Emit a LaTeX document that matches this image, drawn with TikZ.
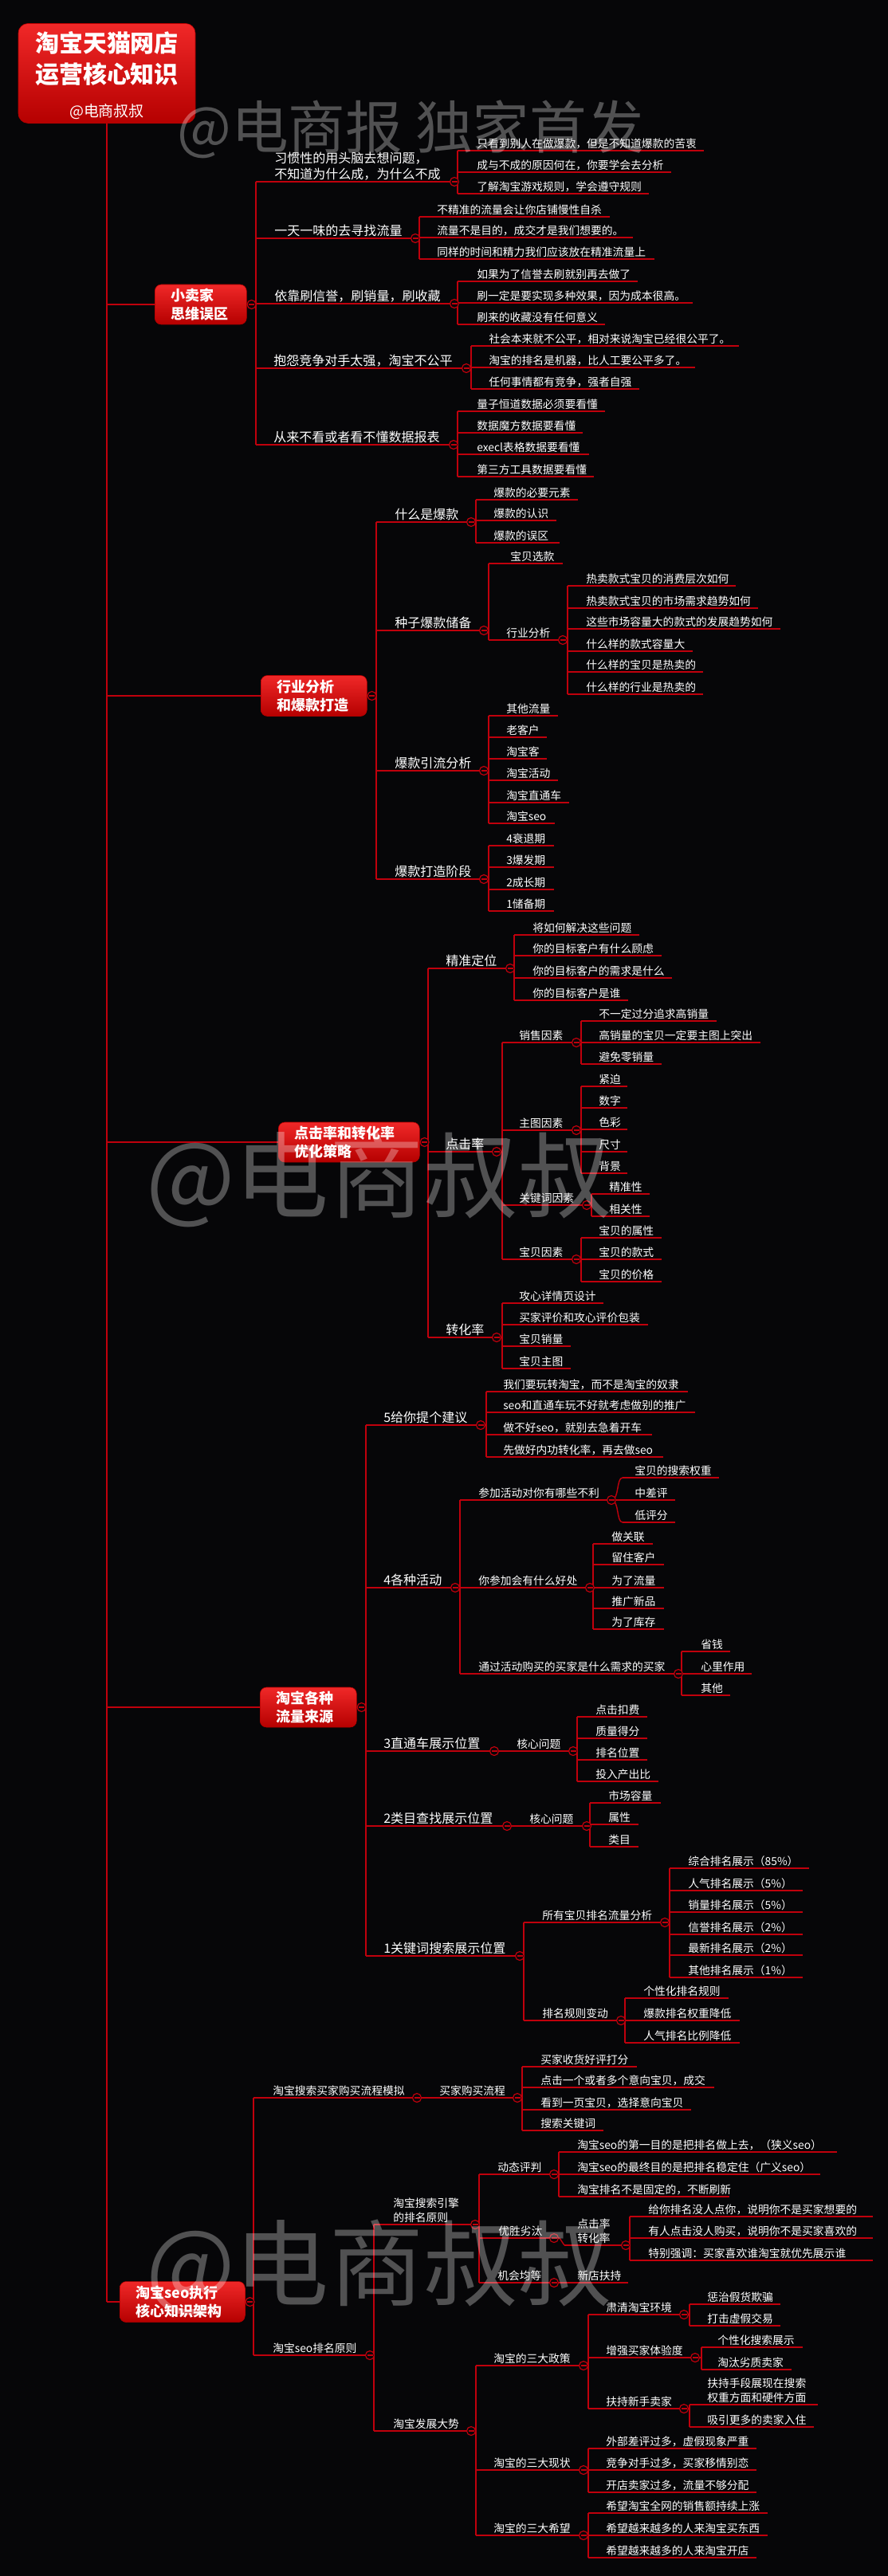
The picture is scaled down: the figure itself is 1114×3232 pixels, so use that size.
\documentclass[tikz,border=0pt]{standalone}
\usepackage{fontspec}
\setmainfont{Noto Sans CJK SC}
\usepackage{tikz}
\usetikzlibrary{positioning}
\definecolor{bgc}{HTML}{060608}
\definecolor{linec}{HTML}{C0000C}
\definecolor{boxtop}{HTML}{F02828}
\definecolor{boxbot}{HTML}{B50000}
\newlength{\pxu}\setlength{\pxu}{0.25mm}
\tikzset{
  ln/.style={linec,line width=0.35mm},
  foldc/.style={draw=linec,fill=bgc,line width=0.3mm},
  txt/.style={text=white,inner sep=0pt,align=left,anchor=south west},
  leaf/.style={txt,font=\fontsize{9.8}{12.8}\selectfont},
  lvtwo/.style={txt,font=\fontsize{11.4}{13.7}\selectfont},
  mainbox/.style={rounded corners=2mm,top color=boxtop,bottom color=boxbot,draw=boxbot,text=white,align=left,inner xsep=20\pxu,inner ysep=0pt,anchor=west,font=\bfseries\fontsize{12.8}{16.2}\selectfont},
  titlebox/.style={rounded corners=3mm,top color=boxtop,bottom color=boxbot,draw=boxbot,inner sep=0pt},
  wmark/.style={text=white,text opacity=0.3,inner sep=0pt,anchor=west}
}
% one branch: name, line start, text x, line y, line end, style, text
\newcommand{\mmnode}[7]{%
  \coordinate (#1-l) at (#2,#4);
  \coordinate (#1-r) at (#5,#4);
  \draw[ln] (#1-l) -- (#1-r);
  \node[#6] (#1) at (#3,#4-2) {#7};}
% fold mark only
\newcommand{\mmmark}[1]{%
  \draw[foldc] (#1-r) circle[radius=5.5\pxu];
  \draw[ln] (#1-r) ++(-3.5,0) -- ++(7,0);}
% parent -> bar over children, with fold mark
\newcommand{\mmfold}[3]{%
  \draw[ln] (#1-r) -- (#1-r -| #2-l);
  \draw[ln] (#2-l) -- (#3-l);
  \mmmark{#1}}

\begin{document}
\begin{tikzpicture}[x=0.25mm,y=-0.25mm]
\useasboundingbox (0,0) rectangle (1114,3232);
\fill[bgc] (0,0) rectangle (1114,3232);

% title
\node[titlebox,minimum width=222\pxu,minimum height=125\pxu] (title) at (134,92) {};
\node[align=center,text=white,font=\bfseries\fontsize{21.3}{27.7}\selectfont] (tl1) at (134,74) {淘宝天猫网店\\运营核心知识};
\node[text=white,font=\fontsize{13.5}{16}\selectfont] (tl2) at (134,140) {@电商叔叔};

% main boxes
\node[mainbox,minimum width=115\pxu,minimum height=50\pxu,text width=75\pxu] (m1) at (194,382) {小卖家\\思维误区};
\node[mainbox,minimum width=133\pxu,minimum height=51\pxu,text width=93\pxu] (m2) at (327,873) {行业分析\\和爆款打造};
\node[mainbox,minimum width=177\pxu,minimum height=50\pxu,text width=137\pxu] (m3) at (349,1433) {点击率和转化率\\优化策略};
\node[mainbox,minimum width=121\pxu,minimum height=50\pxu,text width=81\pxu] (m4) at (326,2142) {淘宝各种\\流量来源};
\node[mainbox,minimum width=157\pxu,minimum height=51\pxu,text width=117\pxu] (m5) at (150,2888) {淘宝seo执行\\核心知识架构};

\draw[ln] (title.south) -- (title.south |- m5.west);
\foreach \m in {m1,m2,m3,m4,m5}{
  \draw[ln] (title.south |- \m.west) -- (\m.west);
  \coordinate (\m-r) at ([xshift=6\pxu]\m.east);
}

% 小卖家思维误区
\mmnode{a1}{321}{344}{228}{570}{lvtwo}{习惯性的用头脑去想问题，\\不知道为什么成，为什么不成}
\mmnode{a1a}{574}{598}{189}{883}{leaf}{只看到别人在做爆款，但是不知道爆款的苦衷}
\mmnode{a1b}{574}{598}{216}{842}{leaf}{成与不成的原因何在，你要学会去分析}
\mmnode{a1c}{574}{598}{243}{814}{leaf}{了解淘宝游戏规则，学会遵守规则}
\mmfold{a1}{a1a}{a1c}
\mmnode{a2}{321}{344}{299}{521}{lvtwo}{一天一味的去寻找流量}
\mmnode{a2a}{526}{548}{272}{765}{leaf}{不精准的流量会让你店铺慢性自杀}
\mmnode{a2b}{526}{548}{298}{794}{leaf}{流量不是目的，成交才是我们想要的。}
\mmnode{a2c}{526}{548}{325}{821}{leaf}{同样的时间和精力我们应该放在精准流量上}
\mmfold{a2}{a2a}{a2c}
\mmnode{a3}{321}{344}{381}{570}{lvtwo}{依靠刷信誉，刷销量，刷收藏}
\mmnode{a3a}{574}{598}{353}{800}{leaf}{如果为了信誉去刷就别再去做了}
\mmnode{a3b}{574}{598}{380}{869}{leaf}{刷一定是要实现多种效果，因为成本很高。}
\mmnode{a3c}{574}{598}{407}{759}{leaf}{刷来的收藏没有任何意义}
\mmfold{a3}{a3a}{a3c}
\mmnode{a4}{321}{343}{462}{585}{lvtwo}{抱怨竞争对手太强，淘宝不公平}
\mmnode{a4a}{591}{613}{434}{927}{leaf}{社会本来就不公平，相对来说淘宝已经很公平了。}
\mmnode{a4b}{591}{613}{461}{872}{leaf}{淘宝的排名是机器，比人工要公平多了。}
\mmnode{a4c}{591}{613}{488}{802}{leaf}{任何事情都有竞争，强者自强}
\mmfold{a4}{a4a}{a4c}
\mmnode{a5}{321}{343}{558}{569}{lvtwo}{从来不看或者看不懂数据报表}
\mmnode{a5a}{574}{598}{516}{759}{leaf}{量子恒道数据必须要看懂}
\mmnode{a5b}{574}{598}{543}{731}{leaf}{数据魔方数据要看懂}
\mmnode{a5c}{574}{598}{570}{739}{leaf}{execl表格数据要看懂}
\mmnode{a5d}{574}{598}{598}{745}{leaf}{第三方工具数据要看懂}
\mmfold{a5}{a5a}{a5d}
\mmfold{m1}{a1}{a5}

% 行业分析和爆款打造
\mmnode{b1}{472}{495}{655}{591}{lvtwo}{什么是爆款}
\mmnode{b1a}{597}{619}{627}{725}{leaf}{爆款的必要元素}
\mmnode{b1b}{597}{619}{653}{698}{leaf}{爆款的认识}
\mmnode{b1c}{597}{619}{681}{702}{leaf}{爆款的误区}
\mmfold{b1}{b1a}{b1c}
\mmnode{b2}{472}{495}{791}{607}{lvtwo}{种子爆款储备}
\mmnode{b2a}{613}{640}{707}{706}{leaf}{宝贝选款}
\mmnode{b2b}{613}{635}{803}{706}{leaf}{行业分析}
\mmnode{b2b1}{712}{735}{735}{923}{leaf}{热卖款式宝贝的消费层次如何}
\mmnode{b2b2}{712}{735}{763}{951}{leaf}{热卖款式宝贝的市场需求趋势如何}
\mmnode{b2b3}{712}{735}{789}{979}{leaf}{这些市场容量大的款式的发展趋势如何}
\mmnode{b2b4}{712}{735}{817}{869}{leaf}{什么样的款式容量大}
\mmnode{b2b5}{712}{735}{843}{882}{leaf}{什么样的宝贝是热卖的}
\mmnode{b2b6}{712}{735}{871}{882}{leaf}{什么样的行业是热卖的}
\mmfold{b2b}{b2b1}{b2b6}
\mmfold{b2}{b2a}{b2b}
\mmnode{b3}{472}{495}{967}{607}{lvtwo}{爆款引流分析}
\mmnode{b3a}{613}{635}{898}{700}{leaf}{其他流量}
\mmnode{b3b}{613}{635}{925}{686}{leaf}{老客户}
\mmnode{b3c}{613}{635}{952}{686}{leaf}{淘宝客}
\mmnode{b3d}{613}{635}{979}{700}{leaf}{淘宝活动}
\mmnode{b3e}{613}{635}{1007}{714}{leaf}{淘宝直通车}
\mmnode{b3f}{613}{635}{1033}{696}{leaf}{淘宝seo}
\mmfold{b3}{b3a}{b3f}
\mmnode{b4}{472}{495}{1103}{607}{lvtwo}{爆款打造阶段}
\mmnode{b4a}{613}{635}{1061}{695}{leaf}{4衰退期}
\mmnode{b4b}{613}{635}{1088}{695}{leaf}{3爆发期}
\mmnode{b4c}{613}{635}{1116}{695}{leaf}{2成长期}
\mmnode{b4d}{613}{635}{1143}{695}{leaf}{1储备期}
\mmfold{b4}{b4a}{b4d}
\mmfold{m2}{b1}{b4}

% 点击率和转化率优化策略
\mmnode{c1}{537}{559}{1215}{640}{lvtwo}{精准定位}
\mmnode{c1a}{645}{668}{1173}{802}{leaf}{将如何解决这些问题}
\mmnode{c1b}{645}{668}{1199}{830}{leaf}{你的目标客户有什么顾虑}
\mmnode{c1c}{645}{668}{1227}{843}{leaf}{你的目标客户的需求是什么}
\mmnode{c1d}{645}{668}{1255}{788}{leaf}{你的目标客户是谁}
\mmfold{c1}{c1a}{c1d}
\mmnode{c2}{537}{559}{1445}{623}{lvtwo}{点击率}
\mmnode{c2a}{630}{651}{1308}{723}{leaf}{销售因素}
\mmnode{c2a1}{729}{751}{1281}{899}{leaf}{不一定过分追求高销量}
\mmnode{c2a2}{729}{751}{1308}{954}{leaf}{高销量的宝贝一定要主图上突出}
\mmnode{c2a3}{729}{751}{1335}{830}{leaf}{避免零销量}
\mmfold{c2a}{c2a1}{c2a3}
\mmnode{c2b}{630}{651}{1418}{723}{leaf}{主图因素}
\mmnode{c2b1}{729}{751}{1363}{787}{leaf}{紧迫}
\mmnode{c2b2}{729}{751}{1390}{787}{leaf}{数字}
\mmnode{c2b3}{729}{751}{1417}{787}{leaf}{色彩}
\mmnode{c2b4}{729}{751}{1445}{787}{leaf}{尺寸}
\mmnode{c2b5}{729}{751}{1472}{787}{leaf}{背景}
\mmfold{c2b}{c2b1}{c2b5}
\mmnode{c2c}{630}{651}{1512}{736}{leaf}{关键词因素}
\mmnode{c2c1}{742}{764}{1498}{815}{leaf}{精准性}
\mmnode{c2c2}{742}{764}{1526}{815}{leaf}{相关性}
\mmfold{c2c}{c2c1}{c2c2}
\mmnode{c2d}{630}{651}{1580}{723}{leaf}{宝贝因素}
\mmnode{c2d1}{729}{751}{1553}{830}{leaf}{宝贝的属性}
\mmnode{c2d2}{729}{751}{1580}{830}{leaf}{宝贝的款式}
\mmnode{c2d3}{729}{751}{1608}{830}{leaf}{宝贝的价格}
\mmfold{c2d}{c2d1}{c2d3}
\mmfold{c2}{c2a}{c2d}
\mmnode{c3}{537}{559}{1678}{623}{lvtwo}{转化率}
\mmnode{c3a}{630}{651}{1635}{757}{leaf}{攻心详情页设计}
\mmnode{c3b}{630}{651}{1662}{813}{leaf}{买家评价和攻心评价包装}
\mmnode{c3c}{630}{651}{1689}{716}{leaf}{宝贝销量}
\mmnode{c3d}{630}{651}{1717}{716}{leaf}{宝贝主图}
\mmfold{c3}{c3a}{c3d}
\mmfold{m3}{c1}{c3}

% 淘宝各种流量来源
\mmnode{d1}{459}{481}{1788}{603}{lvtwo}{5给你提个建议}
\mmnode{d1a}{610}{631}{1746}{863}{leaf}{我们要玩转淘宝，而不是淘宝的奴隶}
\mmnode{d1b}{610}{631}{1772}{872}{leaf}{seo和直通车玩不好就考虑做别的推广}
\mmnode{d1c}{610}{631}{1800}{818}{leaf}{做不好seo，就别去急着开车}
\mmnode{d1d}{610}{631}{1828}{832}{leaf}{先做好内功转化率，再去做seo}
\mmfold{d1}{d1a}{d1d}
\mmnode{d2}{459}{481}{1992}{571}{lvtwo}{4各种活动}
\mmnode{d2a}{577}{600}{1882}{767}{leaf}{参加活动对你有哪些不利}
\mmnode{d2a1}{781}{796}{1854}{902}{leaf}{宝贝的搜索权重}
\mmnode{d2a2}{781}{796}{1882}{847}{leaf}{中差评}
\mmnode{d2a3}{781}{796}{1910}{847}{leaf}{低评分}
\draw[ln] (d2a-r) -- (d2a2-l);
\draw[ln] (d2a-r) .. controls (777,1882) and (773,1854) .. (d2a1-l);
\draw[ln] (d2a-r) .. controls (777,1882) and (773,1910) .. (d2a3-l);
\mmmark{d2a}
\mmnode{d2b}{577}{600}{1992}{740}{leaf}{你参加会有什么好处}
\mmnode{d2b1}{744}{767}{1937}{819}{leaf}{做关联}
\mmnode{d2b2}{744}{767}{1963}{833}{leaf}{留住客户}
\mmnode{d2b3}{744}{767}{1992}{833}{leaf}{为了流量}
\mmnode{d2b4}{744}{767}{2018}{833}{leaf}{推广新品}
\mmnode{d2b5}{744}{767}{2044}{833}{leaf}{为了库存}
\mmfold{d2b}{d2b1}{d2b5}
\mmnode{d2c}{577}{600}{2100}{851}{leaf}{通过活动购买的买家是什么需求的买家}
\mmnode{d2c1}{855}{879}{2072}{916}{leaf}{省钱}
\mmnode{d2c2}{855}{879}{2100}{943}{leaf}{心里作用}
\mmnode{d2c3}{855}{879}{2127}{916}{leaf}{其他}
\mmfold{d2c}{d2c1}{d2c3}
\mmfold{d2}{d2a}{d2c}
\mmnode{d3}{459}{481}{2197}{620}{lvtwo}{3直通车展示位置}
\mmnode{d3a}{626}{648}{2197}{719}{leaf}{核心问题}
\mmnode{d3a1}{724}{747}{2154}{812}{leaf}{点击扣费}
\mmnode{d3a2}{724}{747}{2181}{812}{leaf}{质量得分}
\mmnode{d3a3}{724}{747}{2208}{812}{leaf}{排名位置}
\mmnode{d3a4}{724}{747}{2235}{826}{leaf}{投入产出比}
\mmfold{d3a}{d3a1}{d3a4}
\mmfold{d3}{d3a}{d3a}
\mmnode{d4}{459}{481}{2291}{636}{lvtwo}{2类目查找展示位置}
\mmnode{d4a}{642}{664}{2291}{736}{leaf}{核心问题}
\mmnode{d4a1}{740}{763}{2262}{829}{leaf}{市场容量}
\mmnode{d4a2}{740}{763}{2289}{801}{leaf}{属性}
\mmnode{d4a3}{740}{763}{2317}{801}{leaf}{类目}
\mmfold{d4a}{d4a1}{d4a3}
\mmfold{d4}{d4a}{d4a}
\mmnode{d5}{459}{481}{2454}{652}{lvtwo}{1关键词搜索展示位置}
\mmnode{d5a}{657}{680}{2412}{834}{leaf}{所有宝贝排名流量分析}
\mmnode{d5a1}{840}{863}{2344}{1015}{leaf}{综合排名展示（85\%）}
\mmnode{d5a2}{840}{863}{2372}{1007}{leaf}{人气排名展示（5\%）}
\mmnode{d5a3}{840}{863}{2399}{1007}{leaf}{销量排名展示（5\%）}
\mmnode{d5a4}{840}{863}{2427}{1007}{leaf}{信誉排名展示（2\%）}
\mmnode{d5a5}{840}{863}{2453}{1007}{leaf}{最新排名展示（2\%）}
\mmnode{d5a6}{840}{863}{2481}{1007}{leaf}{其他排名展示（1\%）}
\mmfold{d5a}{d5a1}{d5a6}
\mmnode{d5b}{657}{680}{2535}{779}{leaf}{排名规则变动}
\mmnode{d5b1}{784}{807}{2507}{914}{leaf}{个性化排名规则}
\mmnode{d5b2}{784}{807}{2535}{928}{leaf}{爆款排名权重降低}
\mmnode{d5b3}{784}{807}{2563}{928}{leaf}{人气排名比例降低}
\mmfold{d5b}{d5b1}{d5b3}
\mmfold{d5}{d5a}{d5b}
\mmfold{m4}{d1}{d5}

% 淘宝seo执行核心知识架构
\mmnode{e1}{318}{342}{2632}{523}{leaf}{淘宝搜索买家购买流程模拟}
\mmnode{e1a}{529}{551}{2632}{649}{leaf}{买家购买流程}
\mmnode{e1a1}{655}{678}{2593}{799}{leaf}{买家收货好评打分}
\mmnode{e1a2}{655}{678}{2619}{896}{leaf}{点击一个或者多个意向宝贝，成交}
\mmnode{e1a3}{655}{678}{2647}{867}{leaf}{看到一页宝贝，选择意向宝贝}
\mmnode{e1a4}{655}{678}{2673}{757}{leaf}{搜索关键词}
\mmfold{e1a}{e1a1}{e1a4}
\mmfold{e1}{e1a}{e1a}
\mmnode{e2}{318}{342}{2955}{464}{leaf}{淘宝seo排名原则}
\mmnode{e2a}{469}{493}{2791}{596}{leaf}{淘宝搜索引擎\\的排名原则}
\mmnode{e2a1}{601}{624}{2728}{695}{leaf}{动态评判}
\mmnode{e2a1a}{701}{724}{2700}{1050}{leaf}{淘宝seo的第一目的是把排名做上去，（狭义seo）}
\mmnode{e2a1b}{701}{724}{2728}{1029}{leaf}{淘宝seo的最终目的是把排名稳定住（广义seo）}
\mmnode{e2a1c}{701}{724}{2756}{915}{leaf}{淘宝排名不是固定的，不断刷新}
\mmfold{e2a1}{e2a1a}{e2a1c}
\mmnode{e2a2}{601}{625}{2808}{695}{leaf}{优胜劣汰}
\mmnode{e2a2a}{708}{724}{2817}{785}{leaf}{点击率\\转化率}
\mmnode{e2a2a1}{790}{813}{2781}{1095}{leaf}{给你排名没人点你，说明你不是买家想要的}
\mmnode{e2a2a2}{790}{813}{2808}{1095}{leaf}{有人点击没人购买，说明你不是买家喜欢的}
\mmnode{e2a2a3}{790}{813}{2836}{1095}{leaf}{特别强调：买家喜欢谁淘宝就优先展示谁}
\mmfold{e2a2a}{e2a2a1}{e2a2a3}
\draw[ln] (e2a2-r) -- ++(7,0) -- (e2a2a-l);
\mmmark{e2a2}
\mmnode{e2a3}{601}{624}{2864}{695}{leaf}{机会均等}
\mmnode{e2a3a}{701}{724}{2864}{788}{leaf}{新店扶持}
\mmfold{e2a3}{e2a3a}{e2a3a}
\mmfold{e2a}{e2a1}{e2a3}
\mmnode{e2b}{469}{493}{3050}{591}{leaf}{淘宝发展大势}
\mmnode{e2b1}{597}{619}{2968}{732}{leaf}{淘宝的三大政策}
\mmnode{e2b1a}{738}{760}{2904}{858}{leaf}{肃清淘宝环境}
\mmnode{e2b1a1}{865}{887}{2891}{979}{leaf}{惩治假货欺骗}
\mmnode{e2b1a2}{865}{887}{2918}{979}{leaf}{打击虚假交易}
\mmfold{e2b1a}{e2b1a1}{e2b1a2}
\mmnode{e2b1b}{738}{760}{2958}{872}{leaf}{增强买家体验度}
\mmnode{e2b1b1}{880}{900}{2945}{1007}{leaf}{个性化搜索展示}
\mmnode{e2b1b2}{880}{900}{2973}{993}{leaf}{淘汰劣质卖家}
\mmfold{e2b1b}{e2b1b1}{e2b1b2}
\mmnode{e2b1c}{738}{760}{3022}{858}{leaf}{扶持新手卖家}
\mmnode{e2b1c1}{865}{887}{3017}{1026}{leaf}{扶持手段展现在搜索\\权重方面和硬件方面}
\mmnode{e2b1c2}{865}{887}{3045}{1021}{leaf}{吸引更多的卖家入住}
\mmfold{e2b1c}{e2b1c1}{e2b1c2}
\mmfold{e2b1}{e2b1a}{e2b1c}
\mmnode{e2b2}{597}{619}{3099}{732}{leaf}{淘宝的三大现状}
\mmnode{e2b2a}{738}{760}{3072}{949}{leaf}{外部差评过多，虚假现象严重}
\mmnode{e2b2b}{738}{760}{3099}{949}{leaf}{竞争对手过多，买家移情别恋}
\mmnode{e2b2c}{738}{760}{3127}{949}{leaf}{开店卖家过多，流量不够分配}
\mmfold{e2b2}{e2b2a}{e2b2c}
\mmnode{e2b3}{597}{619}{3181}{732}{leaf}{淘宝的三大希望}
\mmnode{e2b3a}{738}{760}{3153}{963}{leaf}{希望淘宝全网的销售额持续上涨}
\mmnode{e2b3b}{738}{760}{3181}{963}{leaf}{希望越来越多的人来淘宝买东西}
\mmnode{e2b3c}{738}{760}{3209}{949}{leaf}{希望越来越多的人来淘宝开店}
\mmfold{e2b3}{e2b3a}{e2b3c}
\mmfold{e2b}{e2b1}{e2b3}
\mmfold{e2}{e2a}{e2b}
\mmfold{m5}{e1}{e2}

% watermarks
\node[wmark,font=\fontsize{51}{51}\selectfont] (wm1) at (222,162) {@电商报 独家首发};
\node[wmark,font=\fontsize{84}{84}\selectfont] (wm2) at (183,1480) {@电商叔叔};
\node[wmark,font=\fontsize{84}{84}\selectfont] (wm3) at (183,2845) {@电商叔叔};
\end{tikzpicture}
\end{document}
